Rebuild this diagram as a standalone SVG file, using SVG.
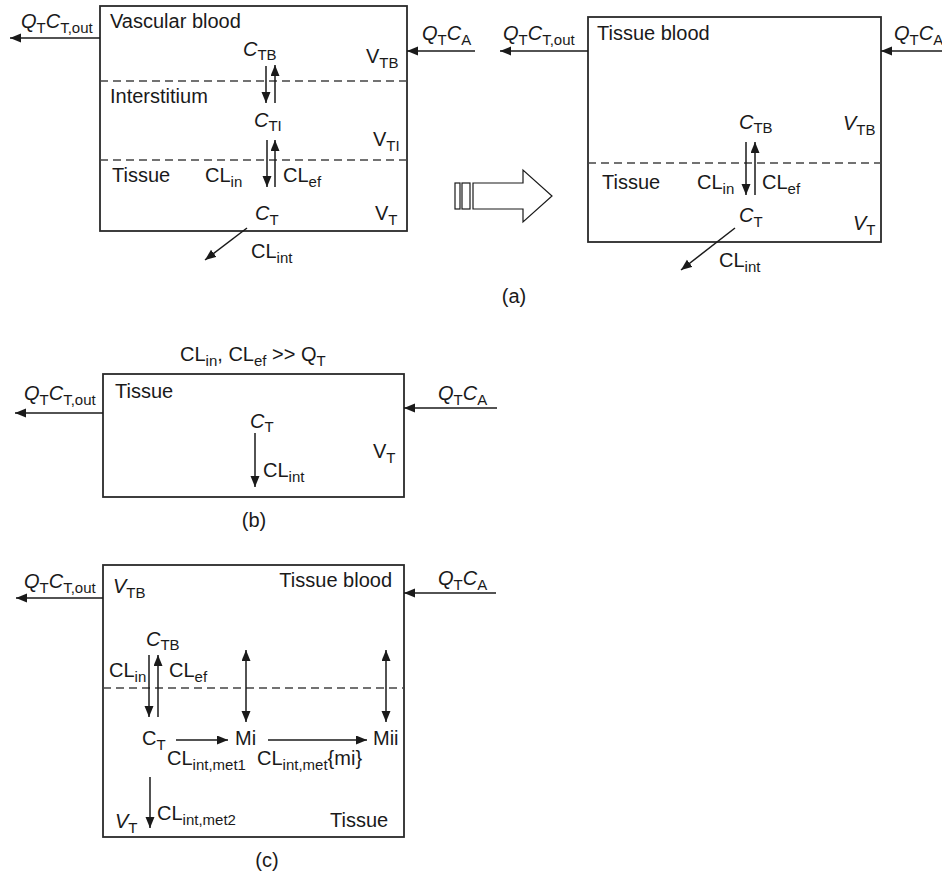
<svg xmlns="http://www.w3.org/2000/svg" width="942" height="877" viewBox="0 0 942 877">
<defs>
<marker id="ah" markerUnits="userSpaceOnUse" markerWidth="12" markerHeight="10" refX="11" refY="4.5" orient="auto-start-reverse">
<path d="M0,0 L11,4.5 L0,9 z" fill="#1a1a1a"/>
</marker>
<style>
text{font-family:"Liberation Sans",Arial,Helvetica,sans-serif;font-size:20px;fill:#1a1a1a}
.s{font-size:15px;font-style:normal}
.i{font-style:italic}
.box{fill:none;stroke:#2a2a2a;stroke-width:1.8}
.dash{stroke:#444;stroke-width:1.4;stroke-dasharray:8,5;fill:none}
.ar{stroke:#1a1a1a;stroke-width:1.5;fill:none;marker-end:url(#ah)}
.dbl{stroke:#1a1a1a;stroke-width:1.5;fill:none;marker-end:url(#ah);marker-start:url(#ah)}
.hollow{fill:#fff;stroke:#1a1a1a;stroke-width:1.2}
</style>
</defs>
<rect width="942" height="877" fill="#fff"/>

<!-- Panel (a) left -->
<g id="a-left">
<rect class="box" x="100" y="6" width="307" height="225"/>
<line class="dash" x1="100" y1="81" x2="407" y2="81"/>
<line class="dash" x1="100" y1="160" x2="407" y2="160"/>
<text x="110" y="28">Vascular blood</text>
<text x="243" y="56"><tspan class="i">C</tspan><tspan class="s" dy="4">TB</tspan></text>
<text x="366" y="63">V<tspan class="s" dy="5">TB</tspan></text>
<text x="110" y="103">Interstitium</text>
<text x="254" y="127"><tspan class="i">C</tspan><tspan class="s" dy="4">TI</tspan></text>
<text x="373" y="146">V<tspan class="s" dy="5">TI</tspan></text>
<text x="112" y="182">Tissue</text>
<text x="205" y="182">CL<tspan class="s" dy="5">in</tspan></text>
<text x="283" y="182">CL<tspan class="s" dy="5">ef</tspan></text>
<text x="255" y="220"><tspan class="i">C</tspan><tspan class="s" dy="5">T</tspan></text>
<text x="375" y="220">V<tspan class="s" dy="5">T</tspan></text>
<text x="251" y="258">CL<tspan class="s" dy="5">int</tspan></text>
<text x="21" y="28"><tspan class="i">Q</tspan><tspan class="s" dy="5">T</tspan><tspan class="i" dy="-5">C</tspan><tspan class="s" dy="5">T,out</tspan></text>
<text x="422" y="40"><tspan class="i">Q</tspan><tspan class="s" dy="5">T</tspan><tspan class="i" dy="-5">C</tspan><tspan class="s" dy="5">A</tspan></text>
</g>

<!-- Panel (a) right -->
<g id="a-right">
<rect class="box" x="588" y="17" width="293" height="225"/>
<line class="dash" x1="588" y1="163" x2="881" y2="163"/>
<text x="597" y="40">Tissue blood</text>
<text x="739" y="129"><tspan class="i">C</tspan><tspan class="s" dy="4">TB</tspan></text>
<text x="843" y="130"><tspan class="i">V</tspan><tspan class="s" dy="5">TB</tspan></text>
<text x="602" y="189">Tissue</text>
<text x="697" y="189">CL<tspan class="s" dy="5">in</tspan></text>
<text x="762" y="189">CL<tspan class="s" dy="5">ef</tspan></text>
<text x="739" y="222"><tspan class="i">C</tspan><tspan class="s" dy="5">T</tspan></text>
<text x="853" y="230"><tspan class="i">V</tspan><tspan class="s" dy="5">T</tspan></text>
<text x="719" y="267">CL<tspan class="s" dy="5">int</tspan></text>
<text x="503" y="40"><tspan class="i">Q</tspan><tspan class="s" dy="5">T</tspan><tspan class="i" dy="-5">C</tspan><tspan class="s" dy="5">T,out</tspan></text>
<text x="894" y="40"><tspan class="i">Q</tspan><tspan class="s" dy="5">T</tspan><tspan class="i" dy="-5">C</tspan><tspan class="s" dy="5">A</tspan></text>
</g>

<!-- Transition arrow -->
<g id="transition">
<rect class="hollow" x="455" y="183" width="5" height="26"/>
<rect class="hollow" x="462" y="183" width="8" height="26"/>
<path class="hollow" d="M473,183 L523,183 L523,170 L552,196 L523,222 L523,209 L473,209 z"/>
</g>
<text x="514" y="303" text-anchor="middle">(a)</text>

<!-- Panel (b) -->
<g id="b">
<text x="180" y="361">CL<tspan class="s" dy="5">in</tspan><tspan dy="-5">, CL</tspan><tspan class="s" dy="5">ef</tspan><tspan dy="-5"> &gt;&gt; Q</tspan><tspan class="s" dy="5">T</tspan></text>
<rect class="box" x="103" y="374" width="301" height="123"/>
<text x="115" y="398">Tissue</text>
<text x="250" y="428"><tspan class="i">C</tspan><tspan class="s" dy="4">T</tspan></text>
<text x="263" y="477">CL<tspan class="s" dy="5">int</tspan></text>
<text x="373" y="458">V<tspan class="s" dy="5">T</tspan></text>
<text x="24" y="400"><tspan class="i">Q</tspan><tspan class="s" dy="5">T</tspan><tspan class="i" dy="-5">C</tspan><tspan class="s" dy="5">T,out</tspan></text>
<text x="438" y="400"><tspan class="i">Q</tspan><tspan class="s" dy="5">T</tspan><tspan class="i" dy="-5">C</tspan><tspan class="s" dy="5">A</tspan></text>
</g>
<text x="254" y="527" text-anchor="middle">(b)</text>

<!-- Panel (c) -->
<g id="c">
<rect class="box" x="103" y="565" width="301" height="272"/>
<line class="dash" x1="103" y1="688" x2="404" y2="688"/>
<text x="113" y="593"><tspan class="i">V</tspan><tspan class="s" dy="5">TB</tspan></text>
<text x="392" y="587" text-anchor="end">Tissue blood</text>
<text x="146" y="646"><tspan class="i">C</tspan><tspan class="s" dy="4">TB</tspan></text>
<text x="109" y="677">CL<tspan class="s" dy="5">in</tspan></text>
<text x="169" y="677">CL<tspan class="s" dy="5">ef</tspan></text>
<text x="142" y="745">C<tspan class="s" dy="5">T</tspan></text>
<text x="235" y="745">Mi</text>
<text x="373" y="745">Mii</text>
<text x="167" y="765">CL<tspan class="s" dy="5">int,met1</tspan></text>
<text x="257" y="765">CL<tspan class="s" dy="5">int,met</tspan><tspan dy="-5">{mi}</tspan></text>
<text x="157" y="820">CL<tspan class="s" dy="5">int,met2</tspan></text>
<text x="115" y="828"><tspan class="i">V</tspan><tspan class="s" dy="5">T</tspan></text>
<text x="330" y="827">Tissue</text>
<text x="24" y="588"><tspan class="i">Q</tspan><tspan class="s" dy="5">T</tspan><tspan class="i" dy="-5">C</tspan><tspan class="s" dy="5">T,out</tspan></text>
<text x="438" y="585"><tspan class="i">Q</tspan><tspan class="s" dy="5">T</tspan><tspan class="i" dy="-5">C</tspan><tspan class="s" dy="5">A</tspan></text>
</g>
<text x="267" y="867" text-anchor="middle">(c)</text>

<!-- Connectors -->
<g id="connectors">
<line class="ar" x1="100" y1="38" x2="10" y2="38"/>
<line class="ar" x1="475" y1="51" x2="407" y2="51"/>
<line class="ar" x1="266" y1="66" x2="266" y2="103"/>
<line class="ar" x1="275" y1="103" x2="275" y2="65"/>
<line class="ar" x1="267" y1="140" x2="267" y2="187"/>
<line class="ar" x1="275" y1="187" x2="275" y2="140"/>
<line class="ar" x1="247" y1="228" x2="205" y2="260"/>

<line class="ar" x1="588" y1="51" x2="500" y2="51"/>
<line class="ar" x1="942" y1="51" x2="881" y2="51"/>
<line class="ar" x1="746" y1="142" x2="746" y2="195"/>
<line class="ar" x1="755" y1="195" x2="755" y2="142"/>
<line class="ar" x1="735" y1="228" x2="681" y2="270"/>

<line class="ar" x1="103" y1="413" x2="15" y2="413"/>
<line class="ar" x1="497" y1="408" x2="404" y2="408"/>
<line class="ar" x1="255" y1="433" x2="255" y2="487"/>

<line class="ar" x1="103" y1="598" x2="16" y2="598"/>
<line class="ar" x1="496" y1="593" x2="404" y2="593"/>
<line class="ar" x1="149" y1="655" x2="149" y2="717"/>
<line class="ar" x1="158" y1="717" x2="158" y2="655"/>
<line class="dbl" x1="246" y1="650" x2="246" y2="722"/>
<line class="dbl" x1="386" y1="650" x2="386" y2="722"/>
<line class="ar" x1="176" y1="740" x2="228" y2="740"/>
<line class="ar" x1="268" y1="740" x2="367" y2="740"/>
<line class="ar" x1="150" y1="777" x2="150" y2="828"/>
</g>
</svg>
